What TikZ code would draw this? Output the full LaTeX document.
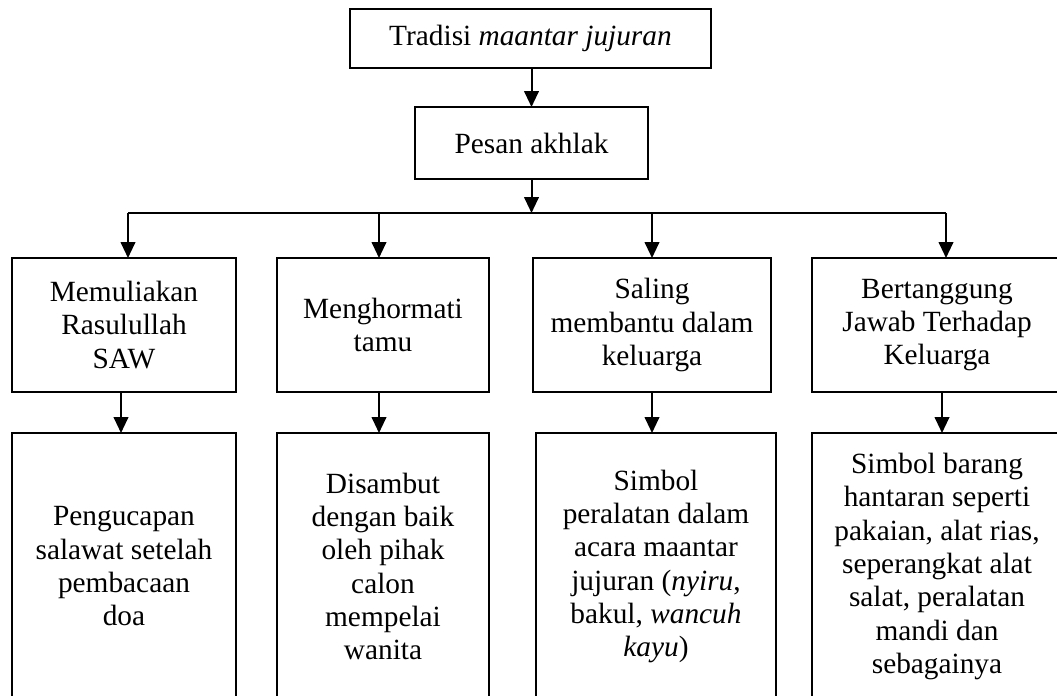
\documentclass[tikz,border=0pt]{standalone}
\usepackage{fontspec}
\setmainfont{Liberation Serif}
\usetikzlibrary{arrows.meta,calc}
\begin{document}
\begin{tikzpicture}[x=0.75pt,y=-0.75pt,
  box/.style={draw,line width=1.5pt,align=center,inner sep=0pt,outer sep=0pt,
    font=\fontsize{22pt}{25pt}\selectfont},
  wh/.style 2 args={minimum width=#1*0.75pt,minimum height=#2*0.75pt},
  arr/.style={line width=1.5pt,-{Triangle[width=11pt,length=12pt]}},
  ln/.style={line width=1.5pt}]
\useasboundingbox (0,0) rectangle (1057,696);
\node[box,wh={361}{59}] (top) at (530.5,38.5) {Tradisi \textit{maantar jujuran}};
\node[box,wh={233}{72}] (pesan) at (531.5,143) {Pesan akhlak};
\coordinate (bus) at (531.5,213);
% row 2
\node[box,wh={224}{134}] (a2) at (124,325) {Memuliakan\\Rasulullah\\SAW};
\node[box,wh={212}{134}] (b2) at (383,325) {Menghormati\\tamu};
\node[box,wh={238}{134}] (c2) at (652,325) {Saling\\membantu dalam\\keluarga};
\node[box,wh={250}{134}] (d2) at (937,325) {Bertanggung\\Jawab Terhadap\\Keluarga};
% row 3
\node[box,wh={224}{267}] (a3) at (124,566.5) {Pengucapan\\salawat setelah\\pembacaan\\doa};
\node[box,wh={212}{267}] (b3) at (383,566.5) {Disambut\\dengan baik\\oleh pihak\\calon\\mempelai\\wanita};
\node[box,wh={240}{267}] (c3) at (656,566.5) {Simbol\\peralatan dalam\\acara maantar\\jujuran (\textit{nyiru},\\bakul, \textit{wancuh}\\\textit{kayu})};
\node[box,wh={250}{267}] (d3) at (937,566.5) {Simbol barang\\hantaran seperti\\pakaian, alat rias,\\seperangkat alat\\salat, peralatan\\mandi dan\\sebagainya};
% arrow positions
\coordinate (xa) at (128,0);  \coordinate (xb) at (379,0);
\coordinate (xc) at (652,0);  \coordinate (xd) at (946,0);
\coordinate (ya) at (121,0);  \coordinate (yb) at (379,0);
\coordinate (yc) at (652,0);  \coordinate (yd) at (942,0);
% connectors
\draw[arr] (top.south -| pesan.north) -- (pesan.north);
\draw[arr] (pesan.south) -- (bus);
\draw[ln] (xa |- bus) -- (xd |- bus);
\foreach \n in {a,b,c,d}{
  \draw[arr] (x\n |- bus) -- (x\n |- \n2.north);
  \draw[arr] (y\n |- \n2.south) -- (y\n |- \n3.north);
}
\end{tikzpicture}
\end{document}
